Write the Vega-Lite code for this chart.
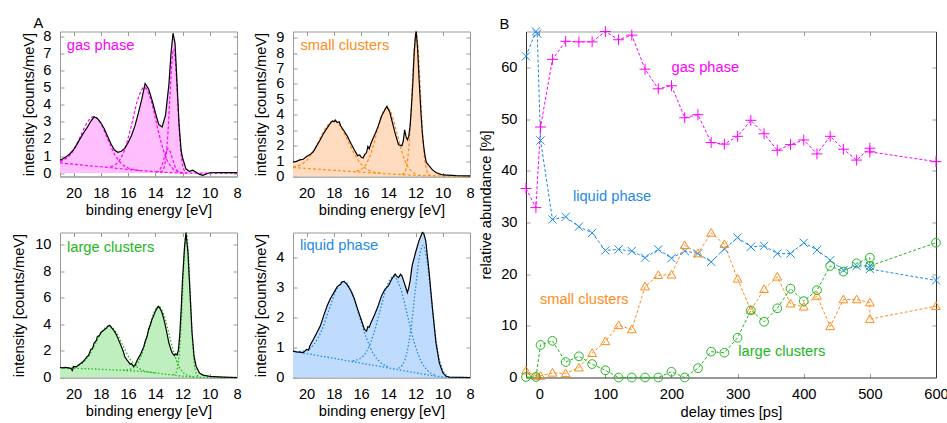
{
"$schema":"https://vega.github.io/schema/vega-lite/v6.json",
"background":"white",
"padding":{"left":11,"top":15.5,"right":5,"bottom":5},
"columns":3,
"align":"none",
"bounds":"flush",
"spacing":56,
"config":{
 "view":{"stroke":"#999"},
 "axis":{"labelFont":"Liberation Sans","labelFontSize":14.67,"labelColor":"#000","titleFont":"Liberation Sans","titleFontSize":14.67,"titleFontWeight":"normal","titleColor":"#000","grid":false,"domainColor":"#999","tickColor":"#999","tickSize":-4,"labelPadding":13,"labelFlush":false,"labelOverlap":false,"titleBaseline":"middle"},
 "title":{"font":"Liberation Sans","fontSize":14.67,"fontWeight":"normal","anchor":"start","frame":"group","dx":-26.5,"offset":-7.5,"baseline":"alphabetic","color":"#000"},
 "text":{"font":"Liberation Sans","fontSize":14.67}
},
"datasets":{
"spec":[
{"p":"gas","e":21,"m":0.75},{"p":"gas","e":20.75,"m":0.85},{"p":"gas","e":20.5,"m":0.98},{"p":"gas","e":20.25,"m":1.15},{"p":"gas","e":20,"m":1.38},{"p":"gas","e":19.75,"m":1.7},{"p":"gas","e":19.5,"m":2.05},{"p":"gas","e":19.25,"m":2.38},{"p":"gas","e":19,"m":2.68},{"p":"gas","e":18.75,"m":3.02},{"p":"gas","e":18.5,"m":3.3},{"p":"gas","e":18.25,"m":3.2},{"p":"gas","e":18,"m":2.95},{"p":"gas","e":17.75,"m":2.6},{"p":"gas","e":17.5,"m":2.15},{"p":"gas","e":17.25,"m":1.7},{"p":"gas","e":17,"m":1.35},{"p":"gas","e":16.75,"m":1.22},{"p":"gas","e":16.5,"m":1.28},{"p":"gas","e":16.25,"m":1.45},{"p":"gas","e":16,"m":1.78},{"p":"gas","e":15.75,"m":2.2},{"p":"gas","e":15.5,"m":2.75},{"p":"gas","e":15.25,"m":3.5},{"p":"gas","e":15,"m":4.3},{"p":"gas","e":14.75,"m":5.25},{"p":"gas","e":14.5,"m":4.95},{"p":"gas","e":14.25,"m":4.3},{"p":"gas","e":14,"m":3.55},{"p":"gas","e":13.75,"m":2.85},{"p":"gas","e":13.5,"m":2.7},{"p":"gas","e":13.25,"m":3.4},{"p":"gas","e":13,"m":5.2},{"p":"gas","e":12.85,"m":7.0},{"p":"gas","e":12.7,"m":8.2},{"p":"gas","e":12.55,"m":7.6},{"p":"gas","e":12.4,"m":5.2},{"p":"gas","e":12.25,"m":2.8},{"p":"gas","e":12.1,"m":1.3},{"p":"gas","e":12,"m":0.9},{"p":"gas","e":11.75,"m":0.25},{"p":"gas","e":11.5,"m":0.1},{"p":"gas","e":11.25,"m":0.17},{"p":"gas","e":11,"m":0.05},{"p":"gas","e":10.75,"m":-0.08},{"p":"gas","e":10.5,"m":-0.13},{"p":"gas","e":10.25,"m":-0.05},{"p":"gas","e":10,"m":0.02},{"p":"gas","e":9,"m":0.03},{"p":"gas","e":8,"m":0.03},
{"p":"small","e":21,"m":0.93},{"p":"small","e":20.75,"m":0.98},{"p":"small","e":20.5,"m":1.08},{"p":"small","e":20.25,"m":1.12},{"p":"small","e":20,"m":1.3},{"p":"small","e":19.75,"m":1.42},{"p":"small","e":19.5,"m":1.62},{"p":"small","e":19.25,"m":2.0},{"p":"small","e":19,"m":2.38},{"p":"small","e":18.75,"m":2.8},{"p":"small","e":18.5,"m":3.14},{"p":"small","e":18.25,"m":3.46},{"p":"small","e":18.1,"m":3.6},{"p":"small","e":18,"m":3.55},{"p":"small","e":17.9,"m":3.66},{"p":"small","e":17.75,"m":3.5},{"p":"small","e":17.6,"m":3.55},{"p":"small","e":17.5,"m":3.29},{"p":"small","e":17.25,"m":2.95},{"p":"small","e":17,"m":2.6},{"p":"small","e":16.75,"m":2.15},{"p":"small","e":16.5,"m":1.73},{"p":"small","e":16.35,"m":1.5},{"p":"small","e":16.25,"m":1.35},{"p":"small","e":16.1,"m":1.4},{"p":"small","e":16,"m":1.26},{"p":"small","e":15.85,"m":1.2},{"p":"small","e":15.75,"m":1.4},{"p":"small","e":15.6,"m":1.55},{"p":"small","e":15.5,"m":1.95},{"p":"small","e":15.4,"m":1.8},{"p":"small","e":15.25,"m":2.2},{"p":"small","e":15,"m":2.7},{"p":"small","e":14.75,"m":3.25},{"p":"small","e":14.5,"m":3.9},{"p":"small","e":14.25,"m":4.33},{"p":"small","e":14.1,"m":4.55},{"p":"small","e":14,"m":4.35},{"p":"small","e":13.9,"m":4.2},{"p":"small","e":13.75,"m":3.68},{"p":"small","e":13.5,"m":2.81},{"p":"small","e":13.25,"m":2.06},{"p":"small","e":13,"m":2.0},{"p":"small","e":12.9,"m":2.3},{"p":"small","e":12.8,"m":3.03},{"p":"small","e":12.7,"m":2.6},{"p":"small","e":12.6,"m":2.38},{"p":"small","e":12.5,"m":2.6},{"p":"small","e":12.4,"m":3.25},{"p":"small","e":12.3,"m":4.5},{"p":"small","e":12.2,"m":6.06},{"p":"small","e":12.1,"m":8.0},{"p":"small","e":12.0,"m":9.2},{"p":"small","e":11.95,"m":9.4},{"p":"small","e":11.85,"m":8.3},{"p":"small","e":11.75,"m":6.5},{"p":"small","e":11.6,"m":4.1},{"p":"small","e":11.5,"m":2.8},{"p":"small","e":11.4,"m":1.95},{"p":"small","e":11.3,"m":1.3},{"p":"small","e":11.2,"m":0.9},{"p":"small","e":11.1,"m":0.8},{"p":"small","e":11,"m":0.69},{"p":"small","e":10.75,"m":0.43},{"p":"small","e":10.5,"m":0.26},{"p":"small","e":10.25,"m":0.17},{"p":"small","e":10,"m":0.1},{"p":"small","e":9,"m":0.06},{"p":"small","e":8,"m":0.04},
{"p":"large","e":21,"m":0.75},{"p":"large","e":20.8,"m":0.73},{"p":"large","e":20.6,"m":0.76},{"p":"large","e":20.4,"m":0.72},{"p":"large","e":20.2,"m":0.68},{"p":"large","e":20.1,"m":0.53},{"p":"large","e":20,"m":0.83},{"p":"large","e":19.8,"m":0.8},{"p":"large","e":19.6,"m":0.98},{"p":"large","e":19.5,"m":1.03},{"p":"large","e":19.3,"m":1.2},{"p":"large","e":19.1,"m":1.45},{"p":"large","e":19,"m":1.58},{"p":"large","e":18.9,"m":1.65},{"p":"large","e":18.75,"m":2.09},{"p":"large","e":18.6,"m":2.2},{"p":"large","e":18.5,"m":2.59},{"p":"large","e":18.35,"m":2.75},{"p":"large","e":18.25,"m":3.09},{"p":"large","e":18.1,"m":3.15},{"p":"large","e":18,"m":3.39},{"p":"large","e":17.85,"m":3.5},{"p":"large","e":17.75,"m":3.59},{"p":"large","e":17.6,"m":3.7},{"p":"large","e":17.5,"m":3.84},{"p":"large","e":17.35,"m":3.92},{"p":"large","e":17.25,"m":3.79},{"p":"large","e":17.1,"m":3.6},{"p":"large","e":17,"m":3.47},{"p":"large","e":16.85,"m":3.2},{"p":"large","e":16.75,"m":2.96},{"p":"large","e":16.6,"m":2.6},{"p":"large","e":16.5,"m":2.34},{"p":"large","e":16.35,"m":1.95},{"p":"large","e":16.25,"m":1.58},{"p":"large","e":16.1,"m":1.35},{"p":"large","e":16,"m":1.21},{"p":"large","e":15.85,"m":1.0},{"p":"large","e":15.75,"m":1.03},{"p":"large","e":15.6,"m":0.85},{"p":"large","e":15.5,"m":0.88},{"p":"large","e":15.4,"m":1.15},{"p":"large","e":15.25,"m":1.46},{"p":"large","e":15.1,"m":1.7},{"p":"large","e":15,"m":1.96},{"p":"large","e":14.85,"m":2.3},{"p":"large","e":14.75,"m":2.71},{"p":"large","e":14.6,"m":3.1},{"p":"large","e":14.5,"m":3.59},{"p":"large","e":14.35,"m":4.0},{"p":"large","e":14.25,"m":4.35},{"p":"large","e":14.1,"m":4.7},{"p":"large","e":14,"m":4.97},{"p":"large","e":13.85,"m":5.25},{"p":"large","e":13.75,"m":5.35},{"p":"large","e":13.6,"m":5.1},{"p":"large","e":13.5,"m":4.85},{"p":"large","e":13.35,"m":4.3},{"p":"large","e":13.25,"m":3.84},{"p":"large","e":13.1,"m":3.1},{"p":"large","e":13,"m":2.59},{"p":"large","e":12.85,"m":2.1},{"p":"large","e":12.75,"m":1.83},{"p":"large","e":12.6,"m":1.65},{"p":"large","e":12.5,"m":1.78},{"p":"large","e":12.4,"m":1.7},{"p":"large","e":12.3,"m":2.09},{"p":"large","e":12.2,"m":3.3},{"p":"large","e":12.1,"m":5.1},{"p":"large","e":12,"m":7.36},{"p":"large","e":11.85,"m":9.87},{"p":"large","e":11.75,"m":10.88},{"p":"large","e":11.6,"m":9.37},{"p":"large","e":11.45,"m":6.36},{"p":"large","e":11.3,"m":3.34},{"p":"large","e":11.15,"m":1.58},{"p":"large","e":11,"m":0.83},{"p":"large","e":10.75,"m":0.33},{"p":"large","e":10.5,"m":0.18},{"p":"large","e":10,"m":0.08},{"p":"large","e":9,"m":0.03},{"p":"large","e":8,"m":0.0},
{"p":"liquid","e":21,"m":0.88},{"p":"liquid","e":20.75,"m":0.86},{"p":"liquid","e":20.5,"m":0.85},{"p":"liquid","e":20.25,"m":0.83},{"p":"liquid","e":20,"m":0.94},{"p":"liquid","e":19.85,"m":0.92},{"p":"liquid","e":19.75,"m":1.07},{"p":"liquid","e":19.5,"m":1.28},{"p":"liquid","e":19.25,"m":1.5},{"p":"liquid","e":19,"m":1.72},{"p":"liquid","e":18.75,"m":2.06},{"p":"liquid","e":18.5,"m":2.39},{"p":"liquid","e":18.25,"m":2.64},{"p":"liquid","e":18,"m":2.84},{"p":"liquid","e":17.75,"m":3.04},{"p":"liquid","e":17.5,"m":3.12},{"p":"liquid","e":17.4,"m":3.2},{"p":"liquid","e":17.25,"m":3.21},{"p":"liquid","e":17.1,"m":3.15},{"p":"liquid","e":17,"m":3.09},{"p":"liquid","e":16.75,"m":2.9},{"p":"liquid","e":16.5,"m":2.64},{"p":"liquid","e":16.25,"m":2.28},{"p":"liquid","e":16,"m":1.95},{"p":"liquid","e":15.75,"m":1.61},{"p":"liquid","e":15.6,"m":1.55},{"p":"liquid","e":15.5,"m":1.7},{"p":"liquid","e":15.4,"m":1.68},{"p":"liquid","e":15.25,"m":1.86},{"p":"liquid","e":15,"m":2.11},{"p":"liquid","e":14.75,"m":2.39},{"p":"liquid","e":14.5,"m":2.73},{"p":"liquid","e":14.25,"m":2.95},{"p":"liquid","e":14,"m":3.06},{"p":"liquid","e":13.75,"m":3.29},{"p":"liquid","e":13.5,"m":3.46},{"p":"liquid","e":13.4,"m":3.4},{"p":"liquid","e":13.25,"m":3.34},{"p":"liquid","e":13.1,"m":3.45},{"p":"liquid","e":13,"m":3.4},{"p":"liquid","e":12.85,"m":3.2},{"p":"liquid","e":12.75,"m":3.06},{"p":"liquid","e":12.6,"m":2.84},{"p":"liquid","e":12.5,"m":3.0},{"p":"liquid","e":12.4,"m":3.23},{"p":"liquid","e":12.25,"m":3.74},{"p":"liquid","e":12,"m":4.18},{"p":"liquid","e":11.75,"m":4.57},{"p":"liquid","e":11.5,"m":4.85},{"p":"liquid","e":11.4,"m":4.82},{"p":"liquid","e":11.25,"m":4.57},{"p":"liquid","e":11,"m":3.51},{"p":"liquid","e":10.75,"m":2.28},{"p":"liquid","e":10.5,"m":1.16},{"p":"liquid","e":10.25,"m":0.49},{"p":"liquid","e":10,"m":0.16},{"p":"liquid","e":9.75,"m":0.04},{"p":"liquid","e":9.5,"m":0.01},{"p":"liquid","e":8,"m":0.0}
],
"comp":[
{"p":"gas","c":"bg","e":21,"v":0.6},{"p":"gas","c":"bg","e":20,"v":0.52},{"p":"gas","c":"bg","e":19,"v":0.44},{"p":"gas","c":"bg","e":18,"v":0.37},{"p":"gas","c":"bg","e":17,"v":0.29},{"p":"gas","c":"bg","e":16,"v":0.21},{"p":"gas","c":"bg","e":15,"v":0.14},{"p":"gas","c":"bg","e":14,"v":0.08},{"p":"gas","c":"bg","e":13,"v":0.03},{"p":"gas","c":"bg","e":12,"v":0},{"p":"gas","c":"bg","e":8,"v":0},
{"p":"gas","c":"g1","e":21,"v":0.69},{"p":"gas","c":"g1","e":20.5,"v":0.88},{"p":"gas","c":"g1","e":20,"v":1.35},{"p":"gas","c":"g1","e":19.5,"v":2.15},{"p":"gas","c":"g1","e":19,"v":2.97},{"p":"gas","c":"g1","e":18.5,"v":3.31},{"p":"gas","c":"g1","e":18,"v":2.9},{"p":"gas","c":"g1","e":17.5,"v":2.0},{"p":"gas","c":"g1","e":17,"v":1.12},{"p":"gas","c":"g1","e":16.5,"v":0.57},{"p":"gas","c":"g1","e":16,"v":0.3},{"p":"gas","c":"g1","e":15.5,"v":0.19},{"p":"gas","c":"g1","e":15,"v":0.14},
{"p":"gas","c":"g2","e":17.3,"v":0.38},{"p":"gas","c":"g2","e":16.8,"v":0.58},{"p":"gas","c":"g2","e":16.3,"v":1.27},{"p":"gas","c":"g2","e":15.8,"v":2.65},{"p":"gas","c":"g2","e":15.3,"v":4.28},{"p":"gas","c":"g2","e":14.8,"v":5.03},{"p":"gas","c":"g2","e":14.3,"v":4.22},{"p":"gas","c":"g2","e":13.8,"v":2.52},{"p":"gas","c":"g2","e":13.3,"v":1.08},{"p":"gas","c":"g2","e":12.8,"v":0.33},{"p":"gas","c":"g2","e":12.3,"v":0.07},{"p":"gas","c":"g2","e":11.8,"v":0},
{"p":"gas","c":"g3","e":13.95,"v":0.045},{"p":"gas","c":"g3","e":13.8,"v":0.09},{"p":"gas","c":"g3","e":13.65,"v":0.22},{"p":"gas","c":"g3","e":13.5,"v":0.49},{"p":"gas","c":"g3","e":13.35,"v":0.88},{"p":"gas","c":"g3","e":13.2,"v":1.26},{"p":"gas","c":"g3","e":13.05,"v":1.43},{"p":"gas","c":"g3","e":12.9,"v":1.25},{"p":"gas","c":"g3","e":12.75,"v":0.87},{"p":"gas","c":"g3","e":12.6,"v":0.47},{"p":"gas","c":"g3","e":12.45,"v":0.2},{"p":"gas","c":"g3","e":12.3,"v":0.07},{"p":"gas","c":"g3","e":12.15,"v":0.02},
{"p":"gas","c":"g4","e":13.63,"v":0.04},{"p":"gas","c":"g4","e":13.49,"v":0.11},{"p":"gas","c":"g4","e":13.35,"v":0.35},{"p":"gas","c":"g4","e":13.21,"v":1.01},{"p":"gas","c":"g4","e":13.07,"v":2.39},{"p":"gas","c":"g4","e":12.93,"v":4.43},{"p":"gas","c":"g4","e":12.79,"v":6.42},{"p":"gas","c":"g4","e":12.65,"v":7.27},{"p":"gas","c":"g4","e":12.51,"v":6.4},{"p":"gas","c":"g4","e":12.37,"v":4.41},{"p":"gas","c":"g4","e":12.23,"v":2.37},{"p":"gas","c":"g4","e":12.09,"v":0.98},{"p":"gas","c":"g4","e":11.95,"v":0.32},{"p":"gas","c":"g4","e":11.81,"v":0.08},{"p":"gas","c":"g4","e":11.67,"v":0.01},
{"p":"small","c":"bg","e":21,"v":0.58},{"p":"small","c":"bg","e":20,"v":0.52},{"p":"small","c":"bg","e":19,"v":0.46},{"p":"small","c":"bg","e":18,"v":0.4},{"p":"small","c":"bg","e":17,"v":0.34},{"p":"small","c":"bg","e":16,"v":0.28},{"p":"small","c":"bg","e":15,"v":0.22},{"p":"small","c":"bg","e":14,"v":0.17},{"p":"small","c":"bg","e":13,"v":0.12},{"p":"small","c":"bg","e":12,"v":0.08},{"p":"small","c":"bg","e":11,"v":0.05},{"p":"small","c":"bg","e":10,"v":0.03},{"p":"small","c":"bg","e":8,"v":0.01},
{"p":"small","c":"g1","e":21,"v":0.63},{"p":"small","c":"g1","e":20.5,"v":0.74},{"p":"small","c":"g1","e":20,"v":1.04},{"p":"small","c":"g1","e":19.5,"v":1.64},{"p":"small","c":"g1","e":19,"v":2.49},{"p":"small","c":"g1","e":18.5,"v":3.29},{"p":"small","c":"g1","e":18,"v":3.6},{"p":"small","c":"g1","e":17.5,"v":3.23},{"p":"small","c":"g1","e":17,"v":2.37},{"p":"small","c":"g1","e":16.5,"v":1.46},{"p":"small","c":"g1","e":16,"v":0.8},{"p":"small","c":"g1","e":15.5,"v":0.44},{"p":"small","c":"g1","e":15,"v":0.27},{"p":"small","c":"g1","e":14.5,"v":0.21},
{"p":"small","c":"g2","e":16.35,"v":0.35},{"p":"small","c":"g2","e":15.975,"v":0.47},{"p":"small","c":"g2","e":15.6,"v":0.84},{"p":"small","c":"g2","e":15.225,"v":1.63},{"p":"small","c":"g2","e":14.85,"v":2.82},{"p":"small","c":"g2","e":14.475,"v":3.98},{"p":"small","c":"g2","e":14.1,"v":4.48},{"p":"small","c":"g2","e":13.725,"v":3.95},{"p":"small","c":"g2","e":13.35,"v":2.75},{"p":"small","c":"g2","e":12.975,"v":1.52},{"p":"small","c":"g2","e":12.6,"v":0.68},{"p":"small","c":"g2","e":12.225,"v":0.28},{"p":"small","c":"g2","e":11.85,"v":0.12},
{"p":"small","c":"g3","e":13,"v":0.14},{"p":"small","c":"g3","e":12.85,"v":0.21},{"p":"small","c":"g3","e":12.7,"v":0.5},{"p":"small","c":"g3","e":12.55,"v":1.34},{"p":"small","c":"g3","e":12.4,"v":3.08},{"p":"small","c":"g3","e":12.25,"v":5.67},{"p":"small","c":"g3","e":12.1,"v":8.19},{"p":"small","c":"g3","e":11.95,"v":9.28},{"p":"small","c":"g3","e":11.8,"v":8.19},{"p":"small","c":"g3","e":11.65,"v":5.66},{"p":"small","c":"g3","e":11.5,"v":3.06},{"p":"small","c":"g3","e":11.35,"v":1.3},{"p":"small","c":"g3","e":11.2,"v":0.46},{"p":"small","c":"g3","e":11.05,"v":0.15},{"p":"small","c":"g3","e":10.9,"v":0.07},
{"p":"large","c":"bg","e":21,"v":0.74},{"p":"large","c":"bg","e":20,"v":0.7},{"p":"large","c":"bg","e":19,"v":0.66},{"p":"large","c":"bg","e":18,"v":0.62},{"p":"large","c":"bg","e":17,"v":0.57},{"p":"large","c":"bg","e":16,"v":0.52},{"p":"large","c":"bg","e":15,"v":0.45},{"p":"large","c":"bg","e":14,"v":0.35},{"p":"large","c":"bg","e":13,"v":0.22},{"p":"large","c":"bg","e":12,"v":0.1},{"p":"large","c":"bg","e":11,"v":0.03},{"p":"large","c":"bg","e":10,"v":0},{"p":"large","c":"bg","e":8,"v":0},
{"p":"large","c":"g1","e":20.9,"v":0.74},{"p":"large","c":"g1","e":20.4,"v":0.74},{"p":"large","c":"g1","e":19.9,"v":0.8},{"p":"large","c":"g1","e":19.4,"v":1.04},{"p":"large","c":"g1","e":18.9,"v":1.61},{"p":"large","c":"g1","e":18.4,"v":2.54},{"p":"large","c":"g1","e":17.9,"v":3.48},{"p":"large","c":"g1","e":17.4,"v":3.89},{"p":"large","c":"g1","e":16.9,"v":3.44},{"p":"large","c":"g1","e":16.4,"v":2.44},{"p":"large","c":"g1","e":15.9,"v":1.46},{"p":"large","c":"g1","e":15.4,"v":0.84},{"p":"large","c":"g1","e":14.9,"v":0.54},{"p":"large","c":"g1","e":14.4,"v":0.41},{"p":"large","c":"g1","e":13.9,"v":0.34},
{"p":"large","c":"g2","e":16.375,"v":0.55},{"p":"large","c":"g2","e":16,"v":0.58},{"p":"large","c":"g2","e":15.625,"v":0.72},{"p":"large","c":"g2","e":15.25,"v":1.15},{"p":"large","c":"g2","e":14.875,"v":2.08},{"p":"large","c":"g2","e":14.5,"v":3.47},{"p":"large","c":"g2","e":14.125,"v":4.82},{"p":"large","c":"g2","e":13.75,"v":5.37},{"p":"large","c":"g2","e":13.375,"v":4.72},{"p":"large","c":"g2","e":13,"v":3.29},{"p":"large","c":"g2","e":12.625,"v":1.81},{"p":"large","c":"g2","e":12.25,"v":0.8},{"p":"large","c":"g2","e":11.875,"v":0.31},{"p":"large","c":"g2","e":11.5,"v":0.12},{"p":"large","c":"g2","e":11.125,"v":0.04},
{"p":"large","c":"g3","e":12.665,"v":0.2},{"p":"large","c":"g3","e":12.53,"v":0.28},{"p":"large","c":"g3","e":12.395,"v":0.62},{"p":"large","c":"g3","e":12.26,"v":1.58},{"p":"large","c":"g3","e":12.125,"v":3.62},{"p":"large","c":"g3","e":11.99,"v":6.66},{"p":"large","c":"g3","e":11.855,"v":9.62},{"p":"large","c":"g3","e":11.72,"v":10.88},{"p":"large","c":"g3","e":11.585,"v":9.6},{"p":"large","c":"g3","e":11.45,"v":6.62},{"p":"large","c":"g3","e":11.315,"v":3.56},{"p":"large","c":"g3","e":11.18,"v":1.5},{"p":"large","c":"g3","e":11.045,"v":0.51},{"p":"large","c":"g3","e":10.91,"v":0.14},{"p":"large","c":"g3","e":10.775,"v":0.04},
{"p":"liquid","c":"bg","e":21,"v":0.88},{"p":"liquid","c":"bg","e":20,"v":0.8},{"p":"liquid","c":"bg","e":19,"v":0.72},{"p":"liquid","c":"bg","e":18,"v":0.64},{"p":"liquid","c":"bg","e":17,"v":0.56},{"p":"liquid","c":"bg","e":16,"v":0.48},{"p":"liquid","c":"bg","e":15,"v":0.4},{"p":"liquid","c":"bg","e":14,"v":0.32},{"p":"liquid","c":"bg","e":13,"v":0.24},{"p":"liquid","c":"bg","e":12,"v":0.16},{"p":"liquid","c":"bg","e":11,"v":0.08},{"p":"liquid","c":"bg","e":10,"v":0.02},{"p":"liquid","c":"bg","e":9.5,"v":0},{"p":"liquid","c":"bg","e":8,"v":0},
{"p":"liquid","c":"g1","e":20.55,"v":0.87},{"p":"liquid","c":"g1","e":20,"v":0.92},{"p":"liquid","c":"g1","e":19.45,"v":1.12},{"p":"liquid","c":"g1","e":18.9,"v":1.57},{"p":"liquid","c":"g1","e":18.35,"v":2.27},{"p":"liquid","c":"g1","e":17.8,"v":2.95},{"p":"liquid","c":"g1","e":17.25,"v":3.22},{"p":"liquid","c":"g1","e":16.7,"v":2.87},{"p":"liquid","c":"g1","e":16.15,"v":2.09},{"p":"liquid","c":"g1","e":15.6,"v":1.31},{"p":"liquid","c":"g1","e":15.05,"v":0.76},{"p":"liquid","c":"g1","e":14.5,"v":0.48},{"p":"liquid","c":"g1","e":13.95,"v":0.35},
{"p":"liquid","c":"g2","e":16.6,"v":0.56},{"p":"liquid","c":"g2","e":16.1,"v":0.63},{"p":"liquid","c":"g2","e":15.6,"v":0.87},{"p":"liquid","c":"g2","e":15.1,"v":1.42},{"p":"liquid","c":"g2","e":14.6,"v":2.25},{"p":"liquid","c":"g2","e":14.1,"v":3.06},{"p":"liquid","c":"g2","e":13.6,"v":3.39},{"p":"liquid","c":"g2","e":13.1,"v":2.98},{"p":"liquid","c":"g2","e":12.6,"v":2.09},{"p":"liquid","c":"g2","e":12.1,"v":1.18},{"p":"liquid","c":"g2","e":11.6,"v":0.55},{"p":"liquid","c":"g2","e":11.1,"v":0.23},{"p":"liquid","c":"g2","e":10.6,"v":0.08},
{"p":"liquid","c":"g3","e":13.25,"v":0.31},{"p":"liquid","c":"g3","e":12.95,"v":0.43},{"p":"liquid","c":"g3","e":12.65,"v":0.8},{"p":"liquid","c":"g3","e":12.35,"v":1.59},{"p":"liquid","c":"g3","e":12.05,"v":2.78},{"p":"liquid","c":"g3","e":11.75,"v":3.93},{"p":"liquid","c":"g3","e":11.45,"v":4.42},{"p":"liquid","c":"g3","e":11.15,"v":3.89},{"p":"liquid","c":"g3","e":10.85,"v":2.68},{"p":"liquid","c":"g3","e":10.55,"v":1.45},{"p":"liquid","c":"g3","e":10.25,"v":0.61},{"p":"liquid","c":"g3","e":9.95,"v":0.21},{"p":"liquid","c":"g3","e":9.65,"v":0.05}
],
"lab":[
{"p":"gas","e":20.5,"v":7.45,"t":"gas phase"},
{"p":"small","e":20.45,"v":8.44,"t":"small clusters"},
{"p":"large","e":20.48,"v":9.75,"t":"large clusters"},
{"p":"liquid","e":20.49,"v":4.41,"t":"liquid phase"}
],
"kin":[
{"s":"gas","t":-20,"v":36.6},{"s":"gas","t":-5,"v":32.9},{"s":"gas","t":2,"v":48.5},{"s":"gas","t":20,"v":61.6},{"s":"gas","t":40,"v":65.1},{"s":"gas","t":60,"v":65.0},{"s":"gas","t":80,"v":65.0},{"s":"gas","t":100,"v":67.0},{"s":"gas","t":120,"v":65.4},{"s":"gas","t":140,"v":66.3},{"s":"gas","t":160,"v":59.7},{"s":"gas","t":180,"v":55.9},{"s":"gas","t":200,"v":56.5},{"s":"gas","t":220,"v":50.3},{"s":"gas","t":240,"v":50.9},{"s":"gas","t":260,"v":45.5},{"s":"gas","t":280,"v":45.2},{"s":"gas","t":300,"v":46.7},{"s":"gas","t":320,"v":49.8},{"s":"gas","t":340,"v":47.2},{"s":"gas","t":360,"v":44.0},{"s":"gas","t":380,"v":45.1},{"s":"gas","t":400,"v":46.0},{"s":"gas","t":420,"v":43.3},{"s":"gas","t":440,"v":46.7},{"s":"gas","t":460,"v":44.2},{"s":"gas","t":480,"v":42.1},{"s":"gas","t":500,"v":44.4},{"s":"gas","t":500,"v":43.7},{"s":"gas","t":600,"v":41.8},
{"s":"liquid","t":-20,"v":62.2},{"s":"liquid","t":-5,"v":67.0},{"s":"liquid","t":-3,"v":66.6},{"s":"liquid","t":2,"v":45.9},{"s":"liquid","t":20,"v":30.6},{"s":"liquid","t":40,"v":31.1},{"s":"liquid","t":60,"v":29.2},{"s":"liquid","t":80,"v":28.0},{"s":"liquid","t":100,"v":24.6},{"s":"liquid","t":120,"v":24.8},{"s":"liquid","t":140,"v":24.5},{"s":"liquid","t":160,"v":23.2},{"s":"liquid","t":180,"v":24.8},{"s":"liquid","t":200,"v":23.1},{"s":"liquid","t":220,"v":24.5},{"s":"liquid","t":240,"v":24.0},{"s":"liquid","t":260,"v":22.4},{"s":"liquid","t":280,"v":24.9},{"s":"liquid","t":300,"v":27.1},{"s":"liquid","t":320,"v":25.3},{"s":"liquid","t":340,"v":25.5},{"s":"liquid","t":360,"v":24.0},{"s":"liquid","t":380,"v":24.0},{"s":"liquid","t":400,"v":26.1},{"s":"liquid","t":420,"v":24.7},{"s":"liquid","t":440,"v":22.7},{"s":"liquid","t":460,"v":20.8},{"s":"liquid","t":480,"v":21.6},{"s":"liquid","t":500,"v":21.6},{"s":"liquid","t":500,"v":21.0},{"s":"liquid","t":600,"v":18.8},
{"s":"small","t":-20,"v":1.3},{"s":"small","t":-5,"v":0.3},{"s":"small","t":2,"v":0.3},{"s":"small","t":20,"v":0.9},{"s":"small","t":40,"v":0.8},{"s":"small","t":60,"v":1.9},{"s":"small","t":80,"v":4.7},{"s":"small","t":100,"v":7.0},{"s":"small","t":120,"v":10.1},{"s":"small","t":140,"v":9.3},{"s":"small","t":160,"v":17.6},{"s":"small","t":180,"v":19.8},{"s":"small","t":200,"v":19.9},{"s":"small","t":220,"v":25.6},{"s":"small","t":240,"v":24.0},{"s":"small","t":260,"v":28.0},{"s":"small","t":280,"v":25.8},{"s":"small","t":300,"v":19.1},{"s":"small","t":320,"v":13.0},{"s":"small","t":340,"v":17.1},{"s":"small","t":360,"v":19.5},{"s":"small","t":380,"v":14.3},{"s":"small","t":400,"v":13.7},{"s":"small","t":420,"v":15.8},{"s":"small","t":440,"v":9.9},{"s":"small","t":460,"v":15.1},{"s":"small","t":480,"v":15.1},{"s":"small","t":500,"v":14.5},{"s":"small","t":500,"v":11.3},{"s":"small","t":600,"v":13.8},
{"s":"large","t":-20,"v":0.1},{"s":"large","t":-5,"v":0.1},{"s":"large","t":2,"v":6.3},{"s":"large","t":20,"v":7.1},{"s":"large","t":40,"v":3.0},{"s":"large","t":60,"v":4.1},{"s":"large","t":80,"v":2.6},{"s":"large","t":100,"v":1.4},{"s":"large","t":120,"v":0},{"s":"large","t":140,"v":0},{"s":"large","t":160,"v":0},{"s":"large","t":180,"v":0},{"s":"large","t":200,"v":1.1},{"s":"large","t":220,"v":0},{"s":"large","t":240,"v":1.8},{"s":"large","t":260,"v":5.0},{"s":"large","t":280,"v":4.8},{"s":"large","t":300,"v":7.7},{"s":"large","t":320,"v":13.0},{"s":"large","t":340,"v":10.8},{"s":"large","t":360,"v":13.4},{"s":"large","t":380,"v":17.2},{"s":"large","t":400,"v":14.8},{"s":"large","t":420,"v":16.9},{"s":"large","t":440,"v":21.6},{"s":"large","t":460,"v":20.5},{"s":"large","t":480,"v":22.1},{"s":"large","t":500,"v":23.2},{"s":"large","t":500,"v":21.6},{"s":"large","t":600,"v":26.1}
],
"blab":[
{"s":"gas","t":200,"v":60,"txt":"gas phase"},
{"s":"liquid","t":51,"v":35,"txt":"liquid phase"},
{"s":"small","t":1,"v":15,"txt":"small clusters"},
{"s":"large","t":301,"v":5,"txt":"large clusters"}
]
},
"concat":[
{"width":177,"height":145,"title":{"text":"A","dy":-5},
 "resolve":{"axis":{"x":"independent","y":"independent"}},
 "layer":[
  {"data":{"name":"spec"},"transform":[{"filter":"datum.p==='gas'"}],"mark":{"type":"area","color":"#ffbfff"},
   "encoding":{"x":{"field":"e","type":"quantitative","scale":{"domain":[21,8],"nice":false,"zero":false},"axis":{"values":[20,18,16,14,12,10,8],"title":"binding energy [eV]","titleY":34}},
   "y":{"field":"m","type":"quantitative","scale":{"domain":[-0.2,8.3],"nice":false,"zero":false},"axis":{"values":[0,1,2,3,4,5,6,7,8],"title":"intensity [counts/meV]","titleX":-30.5}}}},
  {"data":{"name":"comp"},"transform":[{"filter":"datum.p==='gas'"}],"mark":{"type":"line","color":"#ff00ff","strokeDash":[3,2],"strokeWidth":1.2,"interpolate":"monotone"},
   "encoding":{"x":{"field":"e","type":"quantitative","axis":null},"y":{"field":"v","type":"quantitative","axis":null},"detail":{"field":"c"}}},
  {"data":{"name":"spec"},"transform":[{"filter":"datum.p==='gas'"}],"mark":{"type":"line","color":"#000","strokeWidth":1.2},
   "encoding":{"x":{"field":"e","type":"quantitative","axis":{"orient":"top","labels":false,"title":null,"domain":false,"values":[20,18,16,14,12,10,8]}},
   "y":{"field":"m","type":"quantitative","axis":{"orient":"right","labels":false,"title":null,"domain":false,"values":[0,1,2,3,4,5,6,7,8]}}}},
  {"data":{"name":"lab"},"transform":[{"filter":"datum.p==='gas'"}],"mark":{"type":"text","color":"#ff00ff","align":"left","baseline":"middle"},
   "encoding":{"x":{"field":"e","type":"quantitative","axis":null},"y":{"field":"v","type":"quantitative","axis":null},"text":{"field":"t"}}}
 ]},
{"width":177,"height":145,
 "resolve":{"axis":{"x":"independent","y":"independent"}},
 "layer":[
  {"data":{"name":"spec"},"transform":[{"filter":"datum.p==='small'"}],"mark":{"type":"area","color":"#ffdcbf"},
   "encoding":{"x":{"field":"e","type":"quantitative","scale":{"domain":[21,8],"nice":false,"zero":false},"axis":{"values":[20,18,16,14,12,10,8],"title":"binding energy [eV]","titleY":34}},
   "y":{"field":"m","type":"quantitative","scale":{"domain":[0,9.4],"nice":false,"zero":false},"axis":{"values":[0,1,2,3,4,5,6,7,8,9],"title":"intensity [counts/meV]","titleX":-31.7}}}},
  {"data":{"name":"comp"},"transform":[{"filter":"datum.p==='small'"}],"mark":{"type":"line","color":"#ff8c1a","strokeDash":[3,2],"strokeWidth":1.2,"interpolate":"monotone"},
   "encoding":{"x":{"field":"e","type":"quantitative","axis":null},"y":{"field":"v","type":"quantitative","axis":null},"detail":{"field":"c"}}},
  {"data":{"name":"spec"},"transform":[{"filter":"datum.p==='small'"}],"mark":{"type":"line","color":"#000","strokeWidth":1.2},
   "encoding":{"x":{"field":"e","type":"quantitative","axis":{"orient":"top","labels":false,"title":null,"domain":false,"values":[20,18,16,14,12,10,8]}},
   "y":{"field":"m","type":"quantitative","axis":{"orient":"right","labels":false,"title":null,"domain":false,"values":[0,1,2,3,4,5,6,7,8,9]}}}},
  {"data":{"name":"lab"},"transform":[{"filter":"datum.p==='small'"}],"mark":{"type":"text","color":"#ff8c1a","align":"left","baseline":"middle"},
   "encoding":{"x":{"field":"e","type":"quantitative","axis":null},"y":{"field":"v","type":"quantitative","axis":null},"text":{"field":"t"}}}
 ]},
{"width":410,"height":145,"title":{"text":"B"},
 "view":{"stroke":null},
 "resolve":{"axis":{"x":"independent","y":"independent"}},
 "layer":[
  {"data":{"name":"kin"},"mark":{"type":"line","strokeDash":[3,2],"strokeWidth":1},
   "encoding":{"x":{"field":"t","type":"quantitative","scale":{"domain":[-20,600],"nice":false,"zero":false},"axis":{"values":[0,100,200,300,400,500,600],"title":"delay times [ps]","titleY":35,"domainColor":"#333","offset":201}},
   "y":{"field":"v","type":"quantitative","scale":{"domain":[0,67],"range":[346,0],"nice":false,"zero":false},"axis":{"values":[0,10,20,30,40,50,60],"title":"relative abundance [%]","titleX":-40,"domainColor":"#333"}},
   "color":{"field":"s","type":"nominal","scale":{"domain":["gas","liquid","small","large"],"range":["#ff00ff","#1e8ae6","#ff8c1a","#22b822"]},"legend":null}}},
  {"data":{"name":"kin"},"mark":{"type":"point","filled":false,"strokeWidth":1,"size":120,"opacity":1},
   "encoding":{"x":{"field":"t","type":"quantitative","axis":{"orient":"top","labels":false,"title":null,"domain":true,"domainColor":"#999","values":[0,100,200,300,400,500,600]}},
   "y":{"field":"v","type":"quantitative","axis":{"orient":"right","labels":false,"title":null,"domain":true,"domainColor":"#333","values":[0,10,20,30,40,50,60]}},
   "color":{"field":"s","type":"nominal","scale":{"domain":["gas","liquid","small","large"],"range":["#ff00ff","#1e8ae6","#ff8c1a","#22b822"]},"legend":null},
   "shape":{"field":"s","type":"nominal","scale":{"domain":["gas","liquid","small","large"],"range":["M-1,0H1M0,-1V1","M-0.75,-0.75L0.75,0.75M0.75,-0.75L-0.75,0.75","M0,-0.8L0.8,0.6L-0.8,0.6Z","M0.8,0A0.8,0.8,0,1,1,-0.8,0A0.8,0.8,0,1,1,0.8,0Z"]},"legend":null}}},
  {"data":{"name":"blab"},"mark":{"type":"text","align":"left","baseline":"middle"},
   "encoding":{"x":{"field":"t","type":"quantitative","axis":null},"y":{"field":"v","type":"quantitative","axis":null},"text":{"field":"txt"},
   "color":{"field":"s","type":"nominal","scale":{"domain":["gas","liquid","small","large"],"range":["#ff00ff","#1e8ae6","#ff8c1a","#22b822"]},"legend":null}}}
 ]},
{"width":177,"height":145,
 "resolve":{"axis":{"x":"independent","y":"independent"}},
 "layer":[
  {"data":{"name":"spec"},"transform":[{"filter":"datum.p==='large'"}],"mark":{"type":"area","color":"#bfefbf"},
   "encoding":{"x":{"field":"e","type":"quantitative","scale":{"domain":[21,8],"nice":false,"zero":false},"axis":{"values":[20,18,16,14,12,10,8],"title":"binding energy [eV]","titleY":34}},
   "y":{"field":"m","type":"quantitative","scale":{"domain":[0,10.9],"nice":false,"zero":false},"axis":{"values":[0,2,4,6,8,10],"title":"intensity [counts/meV]","titleX":-40.4}}}},
  {"data":{"name":"comp"},"transform":[{"filter":"datum.p==='large'"}],"mark":{"type":"line","color":"#22b822","strokeDash":[1.5,2],"strokeWidth":1.3,"interpolate":"monotone"},
   "encoding":{"x":{"field":"e","type":"quantitative","axis":null},"y":{"field":"v","type":"quantitative","axis":null},"detail":{"field":"c"}}},
  {"data":{"name":"spec"},"transform":[{"filter":"datum.p==='large'"}],"mark":{"type":"line","color":"#000","strokeWidth":1.2},
   "encoding":{"x":{"field":"e","type":"quantitative","axis":{"orient":"top","labels":false,"title":null,"domain":false,"values":[20,18,16,14,12,10,8]}},
   "y":{"field":"m","type":"quantitative","axis":{"orient":"right","labels":false,"title":null,"domain":false,"values":[0,2,4,6,8,10]}}}},
  {"data":{"name":"lab"},"transform":[{"filter":"datum.p==='large'"}],"mark":{"type":"text","color":"#22b822","align":"left","baseline":"middle"},
   "encoding":{"x":{"field":"e","type":"quantitative","axis":null},"y":{"field":"v","type":"quantitative","axis":null},"text":{"field":"t"}}}
 ]},
{"width":177,"height":145,
 "resolve":{"axis":{"x":"independent","y":"independent"}},
 "layer":[
  {"data":{"name":"spec"},"transform":[{"filter":"datum.p==='liquid'"}],"mark":{"type":"area","color":"#bfdcff"},
   "encoding":{"x":{"field":"e","type":"quantitative","scale":{"domain":[21,8],"nice":false,"zero":false},"axis":{"values":[20,18,16,14,12,10,8],"title":"binding energy [eV]","titleY":34}},
   "y":{"field":"m","type":"quantitative","scale":{"domain":[0,4.85],"nice":false,"zero":false},"axis":{"values":[0,1,2,3,4],"title":"intensity [counts/meV]","titleX":-31.7}}}},
  {"data":{"name":"comp"},"transform":[{"filter":"datum.p==='liquid'"}],"mark":{"type":"line","color":"#1e8ae6","strokeDash":[1.5,2],"strokeWidth":1.3,"interpolate":"monotone"},
   "encoding":{"x":{"field":"e","type":"quantitative","axis":null},"y":{"field":"v","type":"quantitative","axis":null},"detail":{"field":"c"}}},
  {"data":{"name":"spec"},"transform":[{"filter":"datum.p==='liquid'"}],"mark":{"type":"line","color":"#000","strokeWidth":1.2},
   "encoding":{"x":{"field":"e","type":"quantitative","axis":{"orient":"top","labels":false,"title":null,"domain":false,"values":[20,18,16,14,12,10,8]}},
   "y":{"field":"m","type":"quantitative","axis":{"orient":"right","labels":false,"title":null,"domain":false,"values":[0,1,2,3,4]}}}},
  {"data":{"name":"lab"},"transform":[{"filter":"datum.p==='liquid'"}],"mark":{"type":"text","color":"#1e8ae6","align":"left","baseline":"middle"},
   "encoding":{"x":{"field":"e","type":"quantitative","axis":null},"y":{"field":"v","type":"quantitative","axis":null},"text":{"field":"t"}}}
 ]}
]
}
